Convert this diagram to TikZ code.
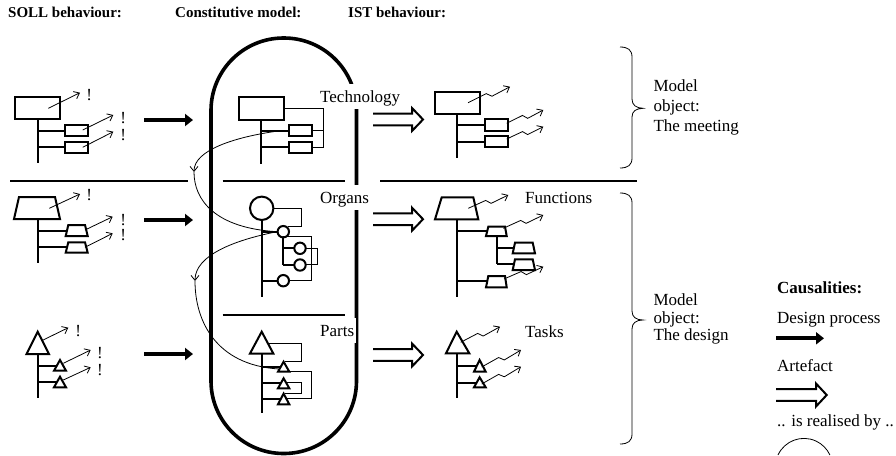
\documentclass[tikz,border=0pt]{standalone}
\usepackage{fontspec}
\setmainfont{Liberation Serif}
\usetikzlibrary{calc,arrows.meta}
\tikzset{
  shp/.style={line width=2pt},
  thn/.style={line width=0.8pt},
  arr/.style={line width=0.8pt,-{Straight Barb[length=5pt,width=8pt]}},
  bigarr/.style={line width=3.8pt,-{Triangle[length=8pt,width=12pt]}},
  sep/.style={line width=2pt},
  stad/.style={line width=3.6pt},
  txt/.style={font=\fontsize{17}{20}\selectfont,inner sep=0pt},
  head/.style={font=\fontsize{15}{18}\selectfont\bfseries,inner sep=0pt,anchor=base west},
  lab/.style={txt,fill=white,inner xsep=2pt,inner ysep=0pt,text height=18.3pt,text depth=6.7pt,anchor=base west},
  bang/.style={txt,anchor=base},
}
\newcommand\zz[2]{%
  \coordinate (zs) at (#1); \coordinate (ze) at (#2);
  \coordinate (za) at ($(zs)!0.45!(ze)$);
  \coordinate (zb) at ($(zs)!0.55!(ze)$);
  \draw[arr] (zs) -- ($(za)!2pt!90:(ze)$) -- ($(zb)!2.5pt!-90:(ze)$) -- (ze);}
\newcommand\dblarr[4]{% x0, xback, xtip, yc
  \draw[shp] (#1,#4-5.8) -- (#2,#4-5.8) -- (#2,#4-11.5) -- (#3,#4) -- (#2,#4+11.5) -- (#2,#4+5.8) -- (#1,#4+5.8);}
\begin{document}
\begin{tikzpicture}[x=1pt,y=-1pt]
\useasboundingbox (0,0) rectangle (896,455);

% headings
\node[head] (h1) at (8,17.3) {SOLL behaviour:};
\node[head] (h2) at (175,17.3) {Constitutive model:};
\node[head] (h3) at (348,17.3) {IST behaviour:};

% separators
\draw[sep] (10,181) -- (188,181);
\draw[sep] (222.7,181) -- (345,181);
\draw[sep] (380,181) -- (637,181);
\draw[sep] (222.7,314.5) -- (345,314.5);

% stadium
\draw[stad,rounded corners=72.5pt] (211,38) rectangle (356.5,453.5);
\node[lab] (tech) at (318,102.7) {Technology};
\node[lab] (org) at (318,203.3) {Organs};
\node[lab] (parts) at (318,336.7) {Parts};

% ===== SOLL technology
\draw[shp] (15,97) rectangle (60,119);
\draw[shp] (37.7,119) -- (37.7,163);
\draw[shp] (37.7,130.7) -- (65,130.7) (37.7,147.3) -- (65,147.3);
\draw[shp] (65,125) rectangle (88.3,136) (65,141.7) rectangle (88.3,152.7);
\draw[arr] (48.3,108.3) -- (80,92.7);
\draw[arr] (82.7,130) -- (113.3,115);
\draw[arr] (82.7,147.3) -- (113.3,131.7);
\node[bang] (b1) at (89.3,100) {!};
\node[bang] (b2) at (123.3,123.3) {!};
\node[bang] (b3) at (123.3,140) {!};
\draw[bigarr] (144,120) -- (193,120);

% ===== SOLL organs
\draw[shp] (19,197) -- (55,197) -- (60,219) -- (14,219) -- cycle;
\draw[shp] (37.7,219) -- (37.7,263.3);
\draw[shp] (37.7,230.7) -- (66.7,230.7) (37.7,247.3) -- (66.7,247.3);
\draw[shp] (68.3,225) -- (85,225) -- (87.7,236) -- (65.7,236) -- cycle;
\draw[shp] (68.3,242.3) -- (85,242.3) -- (87.7,252.7) -- (65.7,252.7) -- cycle;
\draw[arr] (49.3,208.3) -- (80,194);
\draw[arr] (85,230) -- (112.7,216.7);
\draw[arr] (85,247.3) -- (112.7,233.3);
\node[bang] (b4) at (89.3,200.7) {!};
\node[bang] (b5) at (123.3,225) {!};
\node[bang] (b6) at (123.3,240.7) {!};
\draw[bigarr] (144,220) -- (193,220);

% ===== SOLL parts
\draw[shp] (37.7,331.7) -- (49,354) -- (26.5,354) -- cycle;
\draw[shp] (37.7,354) -- (37.7,398.3);
\draw[shp] (37.7,365.5) -- (57,365.5) (37.7,382.3) -- (57,382.3);
\draw[shp] (60,360) -- (66,370.7) -- (54,370.7) -- cycle;
\draw[shp] (60,376.7) -- (66,387.3) -- (54,387.3) -- cycle;
\draw[arr] (41.7,340.7) -- (68.3,327.7);
\draw[arr] (63.3,363.3) -- (90.7,350);
\draw[arr] (63.3,380) -- (90.7,367.3);
\node[bang] (b7) at (78.3,336.7) {!};
\node[bang] (b8) at (100,358.3) {!};
\node[bang] (b9) at (100,375) {!};
\draw[bigarr] (144,354) -- (193,354);

% ===== Constitutive technology
\draw[shp] (239,97) rectangle (284,120);
\draw[shp] (261,120) -- (261,164);
\draw[shp] (261,130.7) -- (289.3,130.7) (261,147.3) -- (289.3,147.3);
\draw[shp] (289.3,125) rectangle (312.3,136.3) (289.3,141.7) rectangle (312.3,153);
\draw[thn] (284,108.3) -- (323.3,108.3) -- (323.3,147.3) -- (312.3,147.3) (312.3,130.7) -- (323.3,130.7);

% ===== Constitutive organs
\draw[shp] (261.7,208.3) circle[radius=11.7];
\draw[shp] (261.7,220) -- (261.7,297.3);
\draw[shp] (261.7,231.7) -- (277.6,231.7) (261.7,280.7) -- (277.6,280.7);
\draw[shp] (283.3,231.7) circle[radius=5.7] (283.3,280.7) circle[radius=5.7];
\draw[shp] (283.3,237.4) -- (283.3,265) (283.3,248.3) -- (294.3,248.3) (283.3,265) -- (294.3,265);
\draw[shp] (300,248.3) circle[radius=5.7] (300,265) circle[radius=5.7];
\draw[thn] (273.4,208.3) -- (301,208.3) -- (301,226) -- (287.5,226);
\draw[thn] (283.3,236.7) -- (311.7,236.7) -- (311.7,280.7) -- (289,280.7);
\draw[thn] (305.7,248.3) -- (317.3,248.3) -- (317.3,264) -- (305.7,264);

% ===== Constitutive parts
\draw[shp] (261.7,331.7) -- (273.3,353.5) -- (250,353.5) -- cycle;
\draw[shp] (261.7,353.5) -- (261.7,413);
\draw[shp] (261.7,366.7) -- (280.5,366.7) (261.7,383.3) -- (280.5,383.3) (261.7,399) -- (280.5,399);
\draw[shp] (283.6,361.7) -- (289.3,371.7) -- (278,371.7) -- cycle;
\draw[shp] (283.6,378.3) -- (289.3,388.3) -- (278,388.3) -- cycle;
\draw[shp] (283.6,393.6) -- (289.3,404.3) -- (278,404.3) -- cycle;
\draw[thn] (267.5,343.3) -- (301,343.3) -- (301,361.7) -- (284.5,361.7);
\draw[thn] (289.3,371.7) -- (311.7,371.7) -- (311.7,398.3) -- (287,398.3);
\draw[thn] (287,382.7) -- (301,382.7) -- (301,393.6) -- (284.5,393.6);

% curved "realised by" arrows
\draw[arr] (278,131) .. controls (235,137) and (194,150) .. (194,172);
\draw[thn] (194,172) .. controls (194,200) and (215,228) .. (277,231.7);
\draw[arr] (277,231.7) .. controls (235,240) and (195,255) .. (195,281);
\draw[thn] (195,281) .. controls (195,320) and (215,365) .. (279,369);

% double arrows
\dblarr{373}{412}{423}{119.5}
\dblarr{373}{412}{423}{219.2}
\dblarr{373}{412}{423}{355}

% ===== IST technology
\draw[shp] (435,92) rectangle (480,114);
\draw[shp] (457.3,114) -- (457.3,158.3);
\draw[shp] (457.3,125) -- (485,125) (457.3,141.7) -- (485,141.7);
\draw[shp] (485,119.3) rectangle (507.7,130.7) (485,136) rectangle (507.7,147.3);
\zz{468,102.7}{510,86.7}
\zz{506.7,123.3}{543.3,110}
\zz{506.7,139}{543.3,126.7}

% ===== IST organs
\draw[shp] (441.7,197.3) -- (473.3,197.3) -- (478.3,219.3) -- (435,219.3) -- cycle;
\draw[shp] (457.3,219.3) -- (457.3,297.3);
\draw[shp] (457.3,230.7) -- (487.3,230.7) (457.3,280.7) -- (487.3,280.7);
\draw[shp] (488.3,226.7) -- (505,226.7) -- (506.7,236) -- (486,236) -- cycle;
\draw[shp] (488.3,276) -- (505,276) -- (506.7,287.3) -- (486,287.3) -- cycle;
\draw[shp] (496.7,236) -- (496.7,264) (496.7,248.3) -- (514,248.3) (496.7,264) -- (514,264);
\draw[shp] (515,242.7) -- (532.7,242.7) -- (535,253.3) -- (512.7,253.3) -- cycle;
\draw[shp] (515,259.3) -- (532.7,259.3) -- (535,270) -- (512.7,270) -- cycle;
\zz{468.3,208.3}{508.3,195}
\zz{503.3,228.3}{543.3,215}
\zz{504,279}{543.3,266.7}
\node[txt,anchor=base west] (fun) at (525,203.3) {Functions};

% ===== IST parts
\draw[shp] (456.7,331.7) -- (469.3,353.3) -- (446,353.3) -- cycle;
\draw[shp] (456.7,353.3) -- (456.7,398.3);
\draw[shp] (456.7,365.7) -- (476.5,365.7) (456.7,382.7) -- (476.5,382.7);
\draw[shp] (479.6,360) -- (485.7,371.7) -- (474,371.7) -- cycle;
\draw[shp] (479.6,377.3) -- (485.7,387.3) -- (474,387.3) -- cycle;
\zz{460.7,342.3}{500,326.7}
\zz{481.7,367}{521,350}
\zz{481.7,384}{521,366.7}
\node[txt,anchor=base west] (tasks) at (525,337) {Tasks};

% ===== braces
\draw[thn] (620,47) .. controls (628,47) and (632,50) .. (632,57) -- (632,99)
  .. controls (632,105) and (636,108) .. (643,108.3)
  .. controls (636,108.6) and (632,111) .. (632,117) -- (632,158)
  .. controls (632,165) and (628,168) .. (620,168);
\draw[thn] (620,193) .. controls (628,193) and (632,196) .. (632,203) -- (632,311)
  .. controls (632,317) and (636,320) .. (643,320)
  .. controls (636,320) and (632,323) .. (632,329) -- (632,434)
  .. controls (632,441) and (628,444) .. (620,444);
\node[txt,anchor=base west] (m1) at (653.3,91.7) {Model};
\node[txt,anchor=base west] (m2) at (653.3,111.7) {object:};
\node[txt,anchor=base west] (m3) at (653.3,131.7) {The meeting};
\node[txt,anchor=base west] (d1) at (653.3,305.7) {Model};
\node[txt,anchor=base west] (d2) at (653.3,323) {object:};
\node[txt,anchor=base west] (d3) at (653.3,340) {The design};

% ===== legend
\node[txt,font=\fontsize{17}{20}\selectfont\bfseries,anchor=base west] (cz) at (777,293.3) {Causalities:};
\node[txt,anchor=base west] (dp) at (777,323.3) {Design process};
\draw[bigarr] (776,338.3) -- (824,338.3);
\node[txt,anchor=base west] (af) at (777,371.7) {Artefact};
\dblarr{776}{816}{826.7}{395}
\node[txt,anchor=base west] (rb) at (777,426.7) {.. is realised by ..};
\draw[thn] (778,455) arc[start angle=204.8,end angle=335.2,radius=28.6];
\end{tikzpicture}
\end{document}
